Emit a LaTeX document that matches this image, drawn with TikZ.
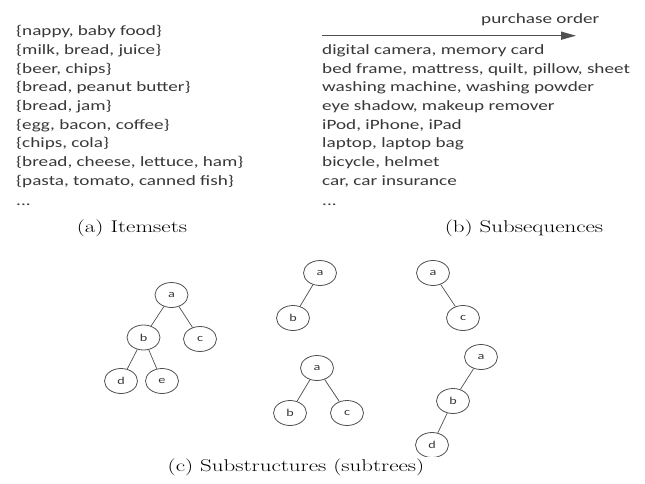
\documentclass[tikz,border=0pt]{standalone}
\usepackage{fontspec}
\setmainfont{Carlito}[FakeStretch=1.35]
\newfontfamily\capfont{Latin Modern Roman}[FakeStretch=1.35]
\usetikzlibrary{shapes.geometric,arrows.meta}
\definecolor{txtgray}{HTML}{383838}
\definecolor{linegray}{HTML}{505050}
\tikzset{
  itemtxt/.style={anchor=mid west, inner sep=0pt, text=txtgray, font=\fontsize{14.2}{17}\selectfont},
  captxt/.style={anchor=center, inner sep=0pt, text=black, font=\capfont\fontsize{17}{20}\selectfont},
  tnode/.style={ellipse, draw=linegray, line width=0.8pt, minimum width=33pt, minimum height=25pt, inner sep=0pt, text=txtgray, font=\fontsize{10.5}{12}\selectfont},
  tedge/.style={draw=linegray, line width=0.7pt}
}
\begin{document}
\begin{tikzpicture}[x=1pt,y=-1pt]
\useasboundingbox[fill=white] (0,0) rectangle (645,484);

% (a) Itemsets
\node[itemtxt] (l1) at (16,33) {\{nappy, baby food\}};
\node[itemtxt] (l2) at (16,52) {\{milk, bread, juice\}};
\node[itemtxt] (l3) at (16,71) {\{beer, chips\}};
\node[itemtxt] (l4) at (16,89.5) {\{bread, peanut butter\}};
\node[itemtxt] (l5) at (16,108) {\{bread, jam\}};
\node[itemtxt] (l6) at (16,127) {\{egg, bacon, coffee\}};
\node[itemtxt] (l7) at (16,145.5) {\{chips, cola\}};
\node[itemtxt] (l8) at (16,164) {\{bread, cheese, lettuce, ham\}};
\node[itemtxt] (l9) at (16,183) {\{pasta, tomato, canned fish\}};
\node[itemtxt] (l10) at (16,203) {...};
\node[captxt] (capa) at (132,228.5) {(a) Itemsets};

% (b) Subsequences
\node[itemtxt] (po) at (481,21) {purchase order};
\coordinate (arrS) at (322,35.7);
\coordinate (arrE) at (576,35.7);
\draw[draw=linegray, line width=1.4pt, -{Triangle[length=15pt,width=8pt]}] (arrS) -- (arrE);
\node[itemtxt] (r1) at (322,52) {digital camera, memory card};
\node[itemtxt] (r2) at (322,71) {bed frame, mattress, quilt, pillow, sheet};
\node[itemtxt] (r3) at (322,89.5) {washing machine, washing powder};
\node[itemtxt] (r4) at (322,108) {eye shadow, makeup remover};
\node[itemtxt] (r5) at (322,127) {iPod, iPhone, iPad};
\node[itemtxt] (r6) at (322,145.5) {laptop, laptop bag};
\node[itemtxt] (r7) at (322,164) {bicycle, helmet};
\node[itemtxt] (r8) at (322,183) {car, car insurance};
\node[itemtxt] (r9) at (322,203) {...};
\node[captxt] (capb) at (524,228.5) {(b) Subsequences};

% (c) Substructures
% tree 1
\node[tnode] (t1a) at (171.5,295) {a};
\node[tnode] (t1b) at (143.5,337.5) {b};
\node[tnode] (t1c) at (200,339) {c};
\node[tnode] (t1d) at (121,381) {d};
\node[tnode] (t1e) at (162,381) {e};
\draw[tedge] (t1a) -- (t1b);
\draw[tedge] (t1a) -- (t1c);
\draw[tedge] (t1b) -- (t1d);
\draw[tedge] (t1b) -- (t1e);
% tree 2
\node[tnode] (t2a) at (320,273) {a};
\node[tnode] (t2b) at (293,318) {b};
\draw[tedge] (t2a) -- (t2b);
% tree 3
\node[tnode] (t3a) at (433,273) {a};
\node[tnode] (t3c) at (463,318) {c};
\draw[tedge] (t3a) -- (t3c);
% tree 4
\node[tnode] (t4a) at (317,368) {a};
\node[tnode] (t4b) at (290,413) {b};
\node[tnode] (t4c) at (347,413) {c};
\draw[tedge] (t4a) -- (t4b);
\draw[tedge] (t4a) -- (t4c);
% tree 5
\node[tnode] (t5a) at (481,357) {a};
\node[tnode] (t5b) at (453,401) {b};
\begin{scope}
\clip (400,425) rectangle (470,456.5);
\node[tnode] (t5d) at (432,445) {d};
\end{scope}
\draw[tedge] (t5a) -- (t5b);
\draw[tedge] (t5b) -- (t5d);
\node[captxt] (capc) at (296,467) {(c) Substructures (subtrees)};
\end{tikzpicture}
\end{document}
